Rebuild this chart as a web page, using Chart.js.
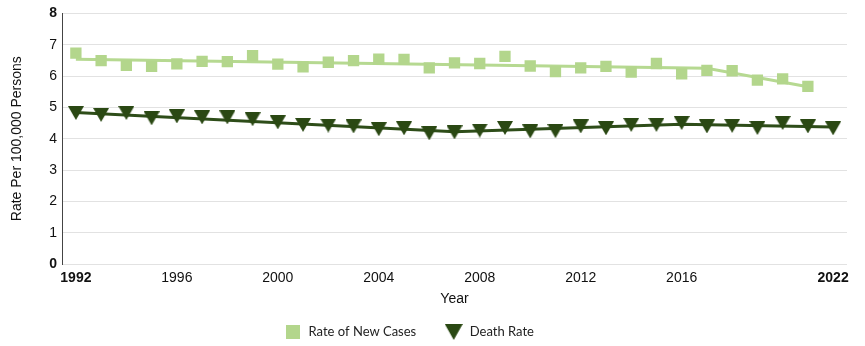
<!DOCTYPE html>
<html>
<head>
<meta charset="utf-8">
<script src="https://cdn.jsdelivr.net/npm/chart.js@4/dist/chart.umd.min.js"></script>
<style>
  html, body { margin: 0; padding: 0; background: #fff; }
  #wrap { width: 865px; height: 346px; }
</style>
</head>
<body>
<div id="wrap"><canvas id="rates"></canvas></div>
<script>
let years = [1992, 1993, 1994, 1995, 1996, 1997, 1998, 1999, 2000, 2001, 2002, 2003, 2004, 2005, 2006,
             2007, 2008, 2009, 2010, 2011, 2012, 2013, 2014, 2015, 2016, 2017, 2018, 2019, 2020, 2021, 2022];

// observed rates per 100,000 (new cases stop at 2021)
let newCases = [6.73, 6.49, 6.34, 6.31, 6.39, 6.47, 6.46, 6.65, 6.38, 6.29, 6.44, 6.49, 6.54, 6.53, 6.26,
                6.42, 6.40, 6.63, 6.32, 6.14, 6.26, 6.31, 6.13, 6.40, 6.07, 6.18, 6.17, 5.87, 5.91, 5.67, null];
let deathRate = [4.82, 4.76, 4.82, 4.65, 4.71, 4.68, 4.68, 4.62, 4.52, 4.44, 4.42, 4.39, 4.30, 4.33, 4.17,
                 4.20, 4.26, 4.34, 4.23, 4.24, 4.39, 4.33, 4.44, 4.44, 4.50, 4.39, 4.41, 4.34, 4.50, 4.39, 4.33];

// fitted trend lines (joinpoints)
let newTrendYears = [1992, 2017, 2021];
let newTrend = [6.54, 6.25, 5.66];
let deathTrendYears = [1992, 2007, 2016, 2022];
let deathTrend = [4.84, 4.22, 4.46, 4.37];

let xTickYears = [1992, 1996, 2000, 2004, 2008, 2012, 2016, 2022];
let boldX = [1992, 2022];
let boldY = [0, 8];

let lightGreen = '#b3d68c';
let darkGreen = '#2a4813';

function triangleDown(w, h, color) {
    let c = document.createElement('canvas');
    c.width = w;
    c.height = h;
    let ctx = c.getContext('2d');
    ctx.fillStyle = color;
    ctx.beginPath();
    ctx.moveTo(0, 0);
    ctx.lineTo(w, 0);
    ctx.lineTo(w / 2, h);
    ctx.closePath();
    ctx.fill();
    return c;
}

function squareBox(s, color) {
    let c = document.createElement('canvas');
    c.width = s;
    c.height = s;
    let ctx = c.getContext('2d');
    ctx.fillStyle = color;
    ctx.fillRect(0, 0, s, s);
    return c;
}

let triMarker = triangleDown(16, 14, darkGreen);
let triLegend = triangleDown(18, 16, darkGreen);
let sqLegend = squareBox(14, lightGreen);

function toPoints(xs, ys) {
    let res = [];
    xs.forEach((x, i) => {
        if (ys[i] !== null) res.push({x: x, y: ys[i]});
    });
    return res;
}

// legend sits a bit left of the canvas centre in the original
let legendShift = {
    id: 'legendShift',
    afterLayout(chart) {
        chart.legend.left -= 15;
        chart.legend.right -= 15;
    }
};

let tickColor = '#111';
let baseFont = 'Liberation Sans, Arial, sans-serif';

var ctx = document.getElementById('rates').getContext('2d');
var chart = new Chart(ctx, {
    type: 'line',
    data: {
        datasets: [
            {
                label: 'Rate of New Cases',
                data: toPoints(years, newCases),
                showLine: false,
                pointStyle: 'rect',
                pointRadius: 8,
                pointHoverRadius: 8,
                backgroundColor: lightGreen,
                borderColor: lightGreen,
                borderWidth: 0,
                order: 0
            },
            {
                label: 'Death Rate',
                data: toPoints(years, deathRate),
                showLine: false,
                pointStyle: triMarker,
                backgroundColor: darkGreen,
                borderColor: darkGreen,
                order: 1
            },
            {
                label: '',
                data: toPoints(newTrendYears, newTrend),
                borderColor: '#b6d991',
                borderWidth: 3,
                pointRadius: 0,
                tension: 0,
                order: 3
            },
            {
                label: '',
                data: toPoints(deathTrendYears, deathTrend),
                borderColor: '#2e4d19',
                borderWidth: 3,
                pointRadius: 0,
                tension: 0,
                order: 2
            }
        ]
    },
    plugins: [legendShift],
    options: {
        responsive: true,
        maintainAspectRatio: false,
        animation: false,
        layout: {
            padding: {top: 12, right: 18, left: 0, bottom: -2.5}
        },
        plugins: {
            tooltip: {enabled: false},
            legend: {
                position: 'bottom',
                labels: {
                    usePointStyle: true,
                    pointStyleWidth: 19,
                    padding: 28,
                    color: '#222',
                    font: {family: 'Lato, sans-serif', size: 13},
                    filter: item => item.text !== '',
                    generateLabels: function(chart) {
                        let items = Chart.defaults.plugins.legend.labels.generateLabels(chart);
                        items.forEach(item => {
                            if (item.text === 'Death Rate') item.pointStyle = triLegend;
                            if (item.text === 'Rate of New Cases') item.pointStyle = sqLegend;
                        });
                        return items;
                    }
                }
            }
        },
        scales: {
            x: {
                type: 'linear',
                min: 1991.45,
                max: 2022.55,
                afterBuildTicks: scale => {
                    scale.ticks = xTickYears.map(v => ({value: v}));
                },
                afterFit: scale => {
                    scale.height = 33.5;
                },
                grid: {display: false, drawTicks: false},
                border: {display: false},
                ticks: {
                    autoSkip: false,
                    maxRotation: 0,
                    padding: 6,
                    color: tickColor,
                    callback: v => String(v),
                    font: c => ({
                        family: baseFont,
                        size: 14,
                        weight: (c.tick && boldX.includes(c.tick.value)) ? 'bold' : 'normal'
                    })
                },
                title: {
                    display: true,
                    text: 'Year',
                    color: tickColor,
                    font: {family: baseFont, size: 14},
                    padding: {top: 0, bottom: -10}
                }
            },
            y: {
                min: 0,
                max: 8,
                afterFit: scale => {
                    scale.width = 62;
                },
                grid: {color: '#e2e2e2', lineWidth: 1, drawTicks: false},
                border: {display: true, color: '#444', width: 1},
                ticks: {
                    stepSize: 1,
                    padding: 5,
                    color: tickColor,
                    font: c => ({
                        family: baseFont,
                        size: 14,
                        weight: (c.tick && boldY.includes(c.tick.value)) ? 'bold' : 'normal'
                    })
                },
                title: {
                    display: true,
                    text: 'Rate Per 100,000 Persons',
                    color: tickColor,
                    font: {family: baseFont, size: 14},
                    padding: {top: 9, bottom: 0}
                }
            }
        }
    }
});
</script>
</body>
</html>
